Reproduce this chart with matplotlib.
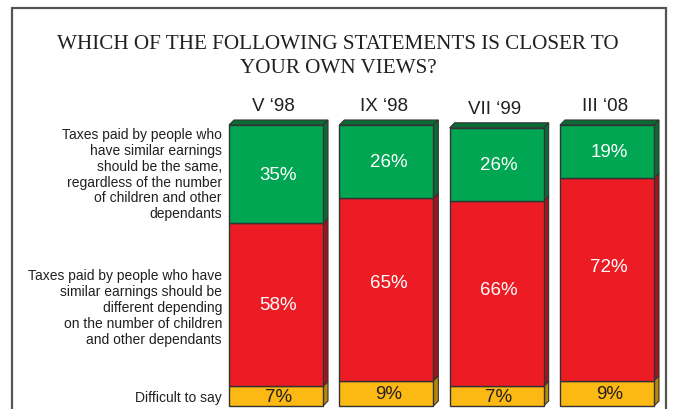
import numpy as np
import matplotlib.pyplot as plt
from matplotlib.patches import Polygon, Rectangle

# survey waves and answer shares (%)
waves = ["V \u201898", "IX \u201898", "VII \u201899", "III \u201808"]
same_tax = [35, 26, 26, 19]
different_tax = [58, 65, 66, 72]
difficult = [7, 9, 7, 9]

answers = [
    "Difficult to say",
    "Taxes paid by people who have\nsimilar earnings should be\ndifferent depending\non the number of children\nand other dependants",
    "Taxes paid by people who\nhave similar earnings\nshould be the same,\nregardless of the number\nof children and other\ndependants",
]

front = ["#fdb913", "#ed1c24", "#00a651"]
side = ["#b8860b", "#a3141b", "#0b6b35"]
text_col = ["#231f20", "white", "white"]

W, H = 674, 410
fig = plt.figure(figsize=(W / 100, H / 100), dpi=100)
fig.patch.set_facecolor("white")

# axes: x in bar slots, y in percent; 0% sits at pixel row 407
px_x = 110.33
px_y = 2.81
left_px, right_px = 229, 662
ax = fig.add_axes([left_px / W, 3 / H, (right_px - left_px) / W, 100 * px_y / H])
x0 = -47 / px_x
ax.set_xlim(x0, x0 + (right_px - left_px) / px_x)
ax.set_ylim(0, 100)
ax.axis("off")

x = np.arange(len(waves))
width = 94 / px_x
dx, dy = 5 / px_x, 5 / px_y
segments = [difficult, different_tax, same_tax]
label_nudge = [[0, 0, 0, 0], [0, 2.5, 1.5, 4.5], [0, 0, 0, 0]]

bottom = np.zeros(len(waves))
for k, vals in enumerate(segments):
    vals = np.array(vals, dtype=float)
    ax.bar(x, vals, width, bottom=bottom, color=front[k], edgecolor="#333333",
           linewidth=1.0, zorder=3, clip_on=False)
    for i in range(len(x)):
        xr = x[i] + width / 2
        b, t = bottom[i], bottom[i] + vals[i]
        ax.add_patch(Polygon([(xr, b), (xr + dx, b + dy), (xr + dx, t + dy), (xr, t)],
                             closed=True, facecolor=side[k], edgecolor="#333333",
                             linewidth=0.8, zorder=2, clip_on=False))
        ax.text(x[i] + 0.02, (b + t) / 2 + label_nudge[k][i], f"{int(vals[i])}%",
                ha="center", va="center", fontsize=13.5, color=text_col[k],
                family="Liberation Sans", zorder=5)
    bottom += vals

# top faces of the stacks
for i in range(len(x)):
    xl, xr, t = x[i] - width / 2, x[i] + width / 2, bottom[i]
    ax.add_patch(Polygon([(xl, t), (xl + dx, t + dy), (xr + dx, t + dy), (xr, t)],
                         closed=True, facecolor=side[2], edgecolor="#333333",
                         linewidth=0.8, zorder=2, clip_on=False))
    ax.text(x[i] - 0.02, t + 7.0, waves[i], ha="center", va="center",
            fontsize=13.5, color="#231f20", family="Liberation Sans")

# answer captions on the left, level with the first bar's segments
first = np.array([s[0] for s in segments], dtype=float)
mids = np.cumsum(first) - first / 2
cap_y = [mids[0] - 0.3, mids[1] - 0.7, mids[2] + 0.2]
cap_x = -width / 2 - 7 / px_x
for txt, yy in zip(answers, cap_y):
    ax.text(cap_x, yy, txt, ha="right", va="center",
            fontsize=10, color="#231f20", family="Liberation Sans",
            linespacing=1.17)

fig.text(338 / W, 1 - 56.5 / H, "WHICH OF THE FOLLOWING STATEMENTS IS CLOSER TO\nYOUR OWN VIEWS?",
         ha="center", va="center", fontsize=15.2, family="Liberation Serif",
         color="#231f20", linespacing=1.38)

# frame around the panel
fig.add_artist(Rectangle((12 / W, -0.1), (666 - 12) / W, 1.1 - 9 / H,
                         transform=fig.transFigure, fill=False,
                         edgecolor="#555555", linewidth=1.6))

fig.savefig("out.png", dpi=100)
